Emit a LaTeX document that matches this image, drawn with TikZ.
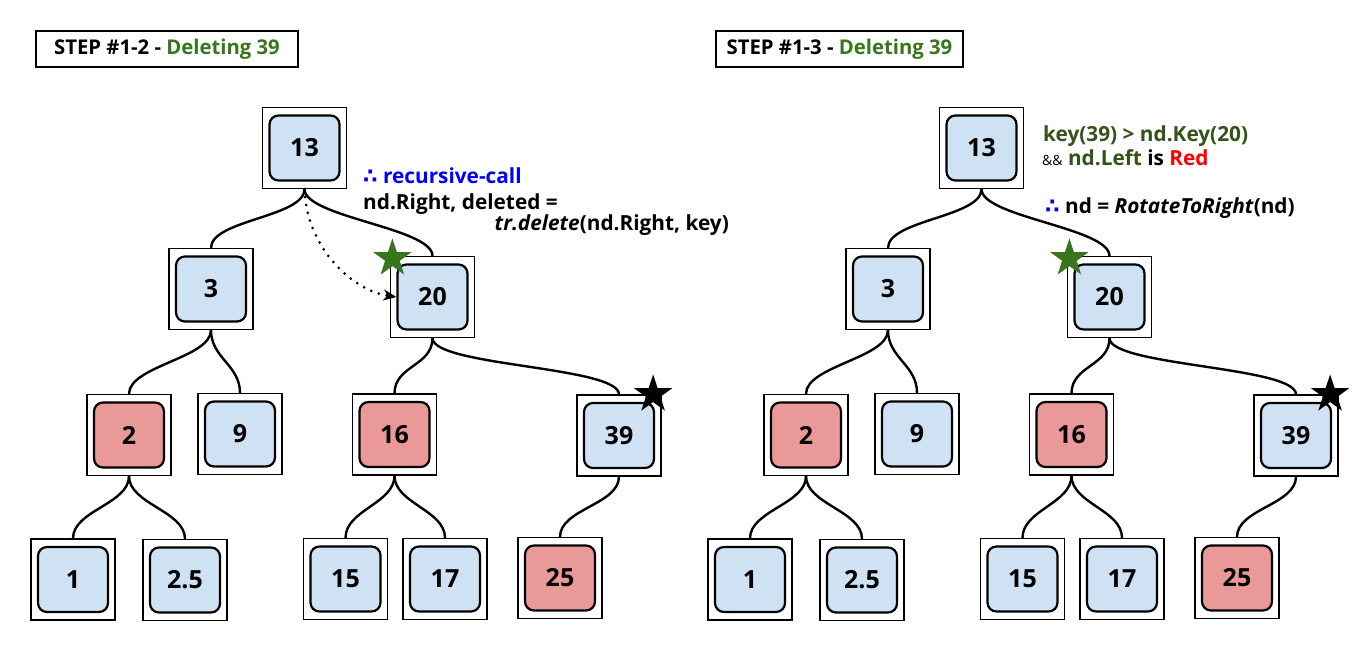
\documentclass[tikz,border=0pt]{standalone}
\usepackage{fontspec}
\setmainfont{Open Sans}
\newfontfamily\dv{DejaVu Sans}
\usetikzlibrary{shapes.geometric,arrows.meta,calc}
\definecolor{nblue}{HTML}{CFE2F3}
\definecolor{nred}{HTML}{EA9999}
\definecolor{tgreen}{HTML}{38761D}
\definecolor{dgreen}{HTML}{33531A}
\tikzset{
  outerbox/.style={draw, line width=1.2pt, minimum width=84pt, minimum height=81pt, inner sep=0pt},
  innerbox/.style={draw, line width=2.2pt, rounded corners=9pt, minimum width=70pt, minimum height=65pt, inner sep=0pt, font=\fontsize{25}{30}\selectfont\bfseries},
  bnode/.style={innerbox, fill=nblue},
  rnode/.style={innerbox, fill=nred},
  tedgestyle/.style={line width=2.4pt},
  titlebox/.style={draw, line width=1.8pt, minimum height=36pt, inner sep=0pt, font=\fontsize{20.3}{24}\selectfont\bfseries},
  annot/.style={inner sep=0pt, font=\fontsize{20.8}{25}\selectfont\bfseries},
  star5/.style={star, star points=5, star point ratio=2.6, minimum size=40pt, inner sep=0pt}
}
\newcommand\tnode[5]{\node[outerbox] (#1) at (#2,#3) {}; \node[#4] (#1i) at (#1) {#5};}
\newcommand\tedge[2]{\draw[tedgestyle] (#1.south) .. controls +(0,28) and +(0,-28) .. (#2.north);}
\newcommand\drawtree[1]{%
  \tnode{#1n13}{304.5}{148}{bnode}{13}
  \tnode{#1n3}{211}{289}{bnode}{3}
  \tnode{#1n20}{432.5}{297}{bnode}{20}
  \tnode{#1n2}{129}{435}{rnode}{2}
  \tnode{#1n9}{240}{434}{bnode}{9}
  \tnode{#1n16}{394.5}{434.5}{rnode}{16}
  \tnode{#1n39}{619}{435.5}{bnode}{39}
  \tnode{#1n1}{73}{579.5}{bnode}{1}
  \tnode{#1n25a}{185}{580}{bnode}{2.5}
  \tnode{#1n15}{345.5}{579}{bnode}{15}
  \tnode{#1n17}{445}{579}{bnode}{17}
  \tnode{#1n25}{560}{578}{rnode}{25}
  \tedge{#1n13}{#1n3}
  \tedge{#1n13}{#1n20}
  \tedge{#1n3}{#1n2}
  \tedge{#1n3}{#1n9}
  \tedge{#1n20}{#1n16}
  \tedge{#1n20}{#1n39}
  \tedge{#1n2}{#1n1}
  \tedge{#1n2}{#1n25a}
  \tedge{#1n16}{#1n15}
  \tedge{#1n16}{#1n17}
  \tedge{#1n39}{#1n25}
  \node[star5, fill=tgreen] (#1sg) at ($(#1n20.north west)+(2.5,2.5)$) {};
  \node[star5, fill=black] (#1sb) at ($(#1n39.north east)+(-8.5,0)$) {};
}
\begin{document}
\begin{tikzpicture}[x=1pt,y=-1pt]
  \useasboundingbox[fill=white] (0,0) rectangle (1369,665);
  % titles
  \node[titlebox, minimum width=262pt] (t1) at (167,49) {STEP \#1-2 - \textcolor{tgreen}{Deleting 39}};
  \node[titlebox, minimum width=247pt] (t2) at (839.5,49) {STEP \#1-3 - \textcolor{tgreen}{Deleting 39}};
  % left tree
  \drawtree{L}
  \draw[line width=3pt, line cap=round, dash pattern=on 0pt off 8pt, -{Stealth[length=13pt,width=11pt,inset=4pt]}]
    (Ln13.south) .. controls (306,245) and (350,290) .. (Ln20i.west);
  \node[annot, anchor=base west] (a1) at (363,183) {\textcolor{blue}{{\dv ∴} recursive-call}};
  \node[annot, anchor=base west] (a2) at (363,209) {nd.Right, deleted =};
  \node[annot, anchor=base east] (a3) at (729,230) {\textit{tr.delete}(nd.Right, key)};
  % right tree
  \begin{scope}[xshift=677pt]
    \drawtree{R}
  \end{scope}
  \node[annot, anchor=base west] (b1) at (1043,141) {\textcolor{dgreen}{key(39) > nd.Key(20)}};
  \node[annot, anchor=base west] (b2) at (1042,165) {{\mdseries\fontsize{14}{16}\selectfont\&\&} \textcolor{dgreen}{nd.Left} is \textcolor{red}{Red}};
  \node[annot, anchor=base west] (b3) at (1045,213) {\textcolor{blue}{\dv ∴} nd = \textit{RotateToRight}(nd)};
\end{tikzpicture}
\end{document}
